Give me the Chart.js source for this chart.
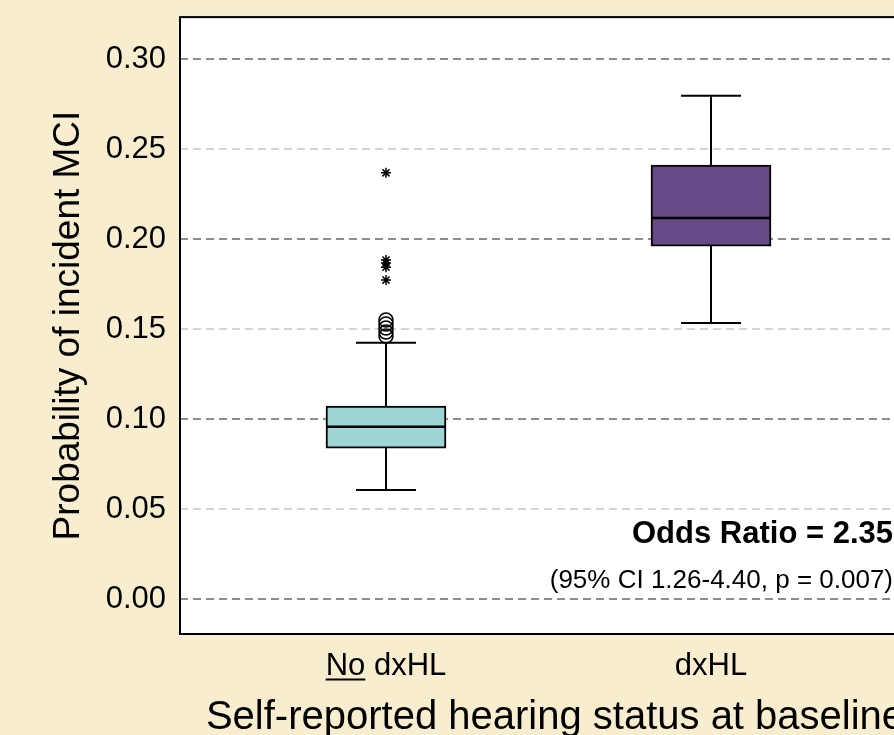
<!DOCTYPE html>
<html>
<head>
<meta charset="utf-8">
<script src="https://cdn.jsdelivr.net/npm/chart.js@4"></script>
<style>
  html, body { margin: 0; padding: 0; background: #F8EECF; overflow: hidden; }
  #wrap { width: 894px; height: 735px; overflow: hidden; }
</style>
</head>
<body>
<div id="wrap"><canvas id="myChart" width="940" height="735"></canvas></div>
<script>
// groups on the x axis
const xLabels = ['No dxHL', 'dxHL'];
const yTicks = [0, 0.05, 0.10, 0.15, 0.20, 0.25, 0.30];

// box plot summary per group
const whiskerLow = [0.0606, 0.1533];
const q1 = [0.0839, 0.1961];
const median = [0.0957, 0.2117];
const q3 = [0.1072, 0.2411];
const whiskerHigh = [0.1424, 0.2796];
const boxColors = ['#A0D5D8', '#654A87'];

// outliers of the "No dxHL" group
const outlierCircles = [0.155, 0.1528, 0.1506, 0.1483, 0.1461];
const outlierStars = [0.2368, 0.1883, 0.1867, 0.1844, 0.1772];

const oddsLine1 = 'Odds Ratio = 2.35';
const oddsLine2 = '(95% CI 1.26-4.40, p = 0.007)';

const FONT = "'Liberation Sans', Arial, sans-serif";

const boxPlugin = {
  id: 'boxExtras',
  beforeDraw(chart) {
    const a = chart.chartArea;
    const ctx = chart.ctx;
    ctx.save();
    ctx.fillStyle = '#ffffff';
    ctx.fillRect(a.left, a.top, a.right - a.left, a.bottom - a.top);
    ctx.restore();
  },
  beforeDatasetsDraw(chart) {
    const ctx = chart.ctx;
    const xs = chart.scales.x, ys = chart.scales.y;
    const half = 60 / 2;
    ctx.save();
    ctx.strokeStyle = '#000';
    ctx.lineWidth = 2;
    for (let i = 0; i < xLabels.length; i++) {
      const x = xs.getPixelForValue(i);
      const yl = ys.getPixelForValue(whiskerLow[i]);
      const yh = ys.getPixelForValue(whiskerHigh[i]);
      ctx.beginPath();
      ctx.moveTo(x, yl); ctx.lineTo(x, yh);
      ctx.moveTo(x - half, yl); ctx.lineTo(x + half, yl);
      ctx.moveTo(x - half, yh); ctx.lineTo(x + half, yh);
      ctx.stroke();
    }
    ctx.restore();
  },
  afterDatasetsDraw(chart) {
    const ctx = chart.ctx;
    const xs = chart.scales.x, ys = chart.scales.y;
    ctx.save();
    ctx.strokeStyle = '#000';
    ctx.lineWidth = 2.5;
    for (let i = 0; i < xLabels.length; i++) {
      const x = xs.getPixelForValue(i);
      const ym = ys.getPixelForValue(median[i]);
      ctx.beginPath();
      ctx.moveTo(x - 59, ym); ctx.lineTo(x + 59, ym);
      ctx.stroke();
    }
    // odds ratio note
    ctx.fillStyle = '#000';
    ctx.textAlign = 'right';
    ctx.textBaseline = 'alphabetic';
    const tx = xs.getPixelForValue(1.56);
    ctx.font = 'bold 31px ' + FONT;
    ctx.fillText(oddsLine1, tx, ys.getPixelForValue(0.0311));
    ctx.font = '26px ' + FONT;
    ctx.fillText(oddsLine2, tx, ys.getPixelForValue(0.0061));
    ctx.restore();
  },
  afterDraw(chart) {
    const ctx = chart.ctx;
    const a = chart.chartArea;
    const xs = chart.scales.x;
    ctx.save();
    ctx.strokeStyle = '#000';
    ctx.lineWidth = 2;
    ctx.strokeRect(a.left, a.top, a.right - a.left, a.bottom - a.top);
    // underline "No" in the first tick label
    ctx.font = '31px ' + FONT;
    const full = ctx.measureText(xLabels[0]).width;
    const no = ctx.measureText('No').width;
    const x0 = xs.getPixelForValue(0) - full / 2;
    const yU = a.bottom + 14 + 18.6 + 13;
    ctx.beginPath();
    ctx.moveTo(x0, yU); ctx.lineTo(x0 + no, yU);
    ctx.stroke();
    ctx.restore();
  }
};

function setupChart() {
  const ctx = document.getElementById('myChart').getContext('2d');
  new Chart(ctx, {
    type: 'bar',
    data: {
      datasets: [{
        type: 'bar',
        label: 'IQR',
        data: xLabels.map((l, i) => ({ x: i, y: [q1[i], q3[i]] })),
        backgroundColor: boxColors,
        borderColor: '#000',
        borderWidth: 2,
        borderSkipped: false,
        barThickness: 120,
        grouped: false
      }, {
        type: 'scatter',
        label: 'outliers',
        data: outlierCircles.map(v => ({ x: 0, y: v })),
        pointStyle: 'circle',
        pointRadius: 7,
        backgroundColor: 'rgba(0,0,0,0)',
        borderColor: '#000',
        borderWidth: 1.5
      }, {
        type: 'scatter',
        label: 'extreme',
        data: outlierStars.map(v => ({ x: 0, y: v })),
        pointStyle: 'star',
        pointRadius: 5,
        borderColor: '#000',
        borderWidth: 1.5
      }]
    },
    options: {
      responsive: false,
      animation: false,
      layout: { padding: { top: 17, left: 0, right: 10, bottom: 0 } },
      plugins: { legend: { display: false }, tooltip: { enabled: false } },
      scales: {
        x: {
          type: 'linear',
          offset: false,
          min: -0.6338,
          max: 1.6738,
          afterBuildTicks: s => { s.ticks = xLabels.map((l, i) => ({ value: i })); },
          afterFit: s => { s.height = 101; },
          grid: { display: false, drawTicks: false, offset: false },
          border: { display: false },
          ticks: {
            color: '#000',
            padding: 14,
            font: { family: FONT, size: 31 },
            callback: (v, i) => xLabels[i]
          },
          title: {
            display: true,
            text: 'Self-reported hearing status at baseline',
            color: '#000',
            font: { family: FONT, size: 40, lineHeight: 0.8 },
            padding: { top: 0, bottom: 1 }
          }
        },
        y: {
          min: -0.0194,
          max: 0.3233,
          afterBuildTicks: s => { s.ticks = yTicks.map(v => ({ value: v })); },
          afterFit: s => { s.width = 180; },
          grid: {
            drawTicks: false,
            lineWidth: 2,
            color: c => (Math.round(c.tick.value * 100) % 10 === 0 ? '#8C8C8C' : '#D4D4D4')
          },
          border: { display: false, dash: [8, 5] },
          ticks: {
            color: '#000',
            padding: 14,
            font: { family: FONT, size: 31, lineHeight: 0.2 },
            callback: v => v.toFixed(2)
          },
          title: {
            display: true,
            text: 'Probability of incident MCI',
            color: '#000',
            font: { family: FONT, size: 37 },
            padding: { top: 47, bottom: 0 }
          }
        }
      }
    },
    plugins: [boxPlugin]
  });
}

window.addEventListener('load', setupChart);
</script>
</body>
</html>
